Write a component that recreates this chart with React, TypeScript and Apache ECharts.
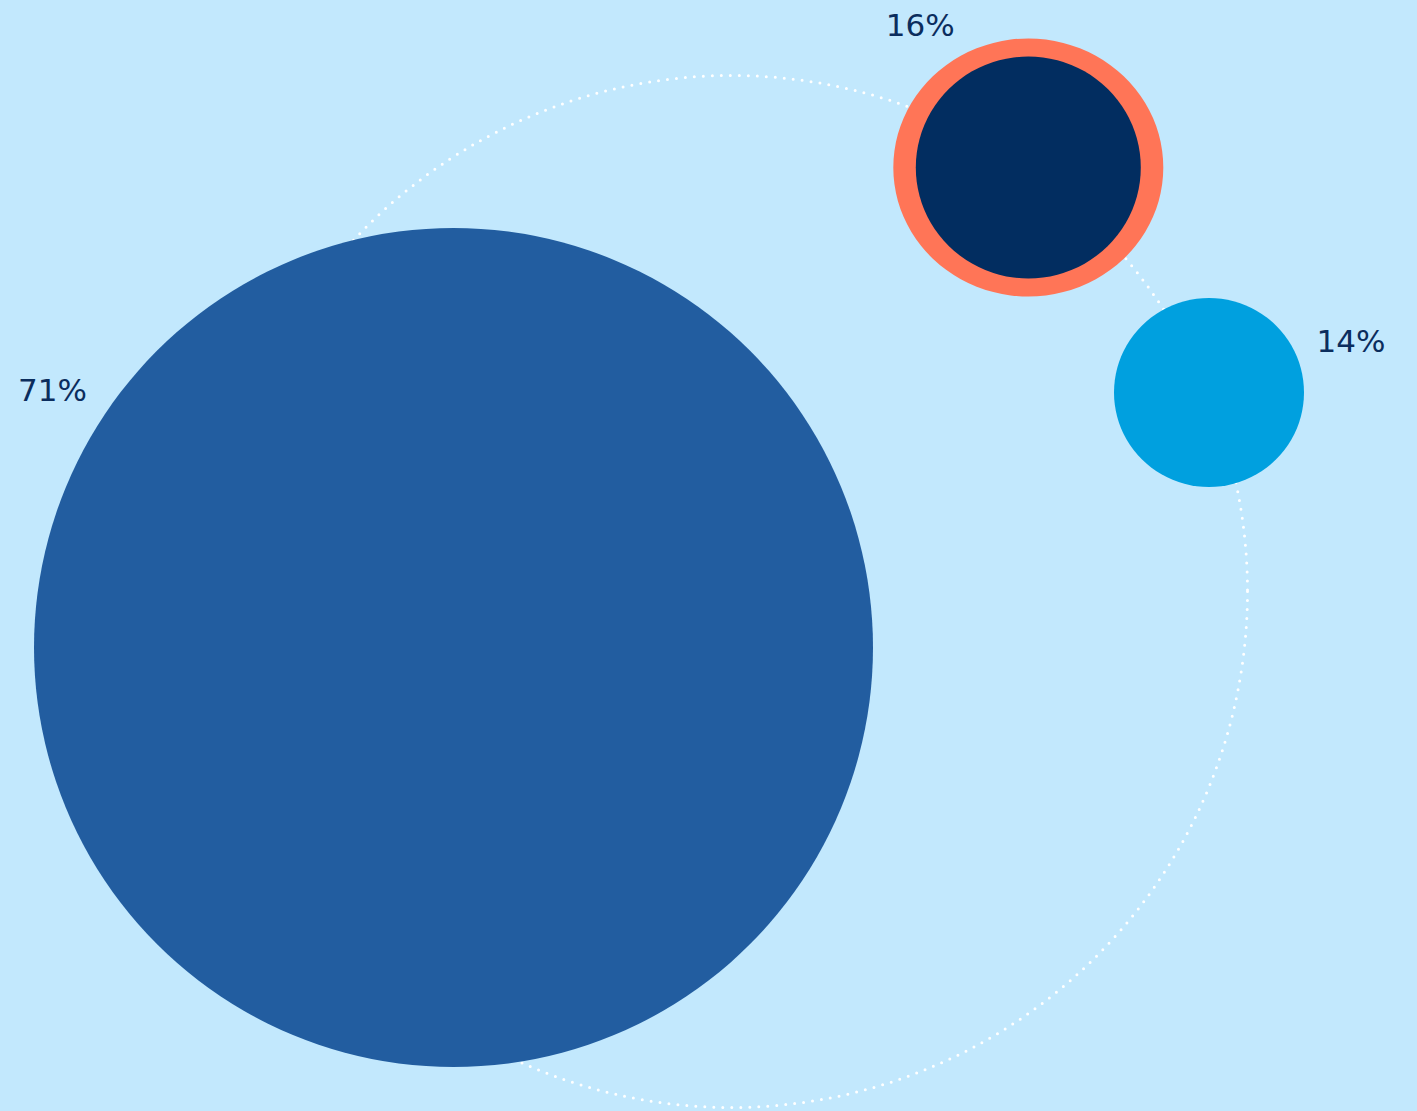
import React, { useEffect, useRef } from "react";
import * as echarts from "echarts";

// Data
const categories = ["Large", "Highlighted", "Small"];
const shares = [71, 16, 14];
const labels = ["71%", "16%", "14%"];
const highlighted = "Highlighted";

// Layout (pixel space of the 1417x1111 canvas)
const W = 1417;
const H = 1111;
const centersX = [453.5, 1028.3, 1209];
const centersY = [647.5, 167.5, 392.5];
const sizes: [number, number][] = [
  [839, 839],
  [225, 222],
  [190, 189],
];
const ringSize: [number, number] = [270, 258];
const fills = ["#225da0", "#022d60", "#00a0df"];
const ringColor = "#ff7557";
const labelOffsets: [number, number][] = [
  [-401, -258],
  [-108, -143],
  [142, -52],
];

const App: React.FC = () => {
  const ref = useRef<HTMLDivElement>(null);
  useEffect(() => {
    document.body.style.margin = "0";
    if (!ref.current) return;
    const chart = echarts.init(ref.current, undefined, { renderer: "svg" });
    const data = categories.map((name, i) => ({
      name,
      value: [centersX[i], centersY[i], shares[i]],
      symbolSize: sizes[i],
      itemStyle: { color: fills[i], opacity: 1 },
      label: {
        show: true,
        formatter: labels[i],
        position: "inside",
        offset: labelOffsets[i],
        align: "center",
        verticalAlign: "middle",
        color: "#0b2d5d",
        fontSize: 31,
        fontFamily: "DejaVu Sans",
        fontWeight: "normal",
      },
    }));
    const hi = categories.indexOf(highlighted);
    const ringData = [
      {
        name: highlighted,
        value: [centersX[hi], centersY[hi], shares[hi]],
        symbolSize: ringSize,
        itemStyle: { color: ringColor, opacity: 1 },
      },
    ];
    chart.setOption({
      animation: false,
      backgroundColor: "#c2e8fd",
      grid: { left: 0, right: 0, top: 0, bottom: 0 },
      xAxis: { type: "value", min: 0, max: W, show: false },
      yAxis: { type: "value", min: 0, max: H, inverse: true, show: false },
      graphic: [
        {
          type: "circle",
          z: 0,
          shape: { cx: 731.5, cy: 591.5, r: 516 },
          style: {
            fill: "none",
            stroke: "#ffffff",
            lineWidth: 3,
            lineDash: [0, 9],
            lineCap: "round",
          },
        },
      ],
      series: [
        {
          type: "scatter",
          z: 4,
          symbol: "circle",
          data: ringData,
          silent: true,
          emphasis: { disabled: true },
        },
        {
          type: "scatter",
          z: 5,
          symbol: "circle",
          data,
          emphasis: { disabled: true },
        },
      ],
    });
    return () => chart.dispose();
  }, []);
  return <div ref={ref} style={{ width: W, height: H }} />;
};

export default App;
